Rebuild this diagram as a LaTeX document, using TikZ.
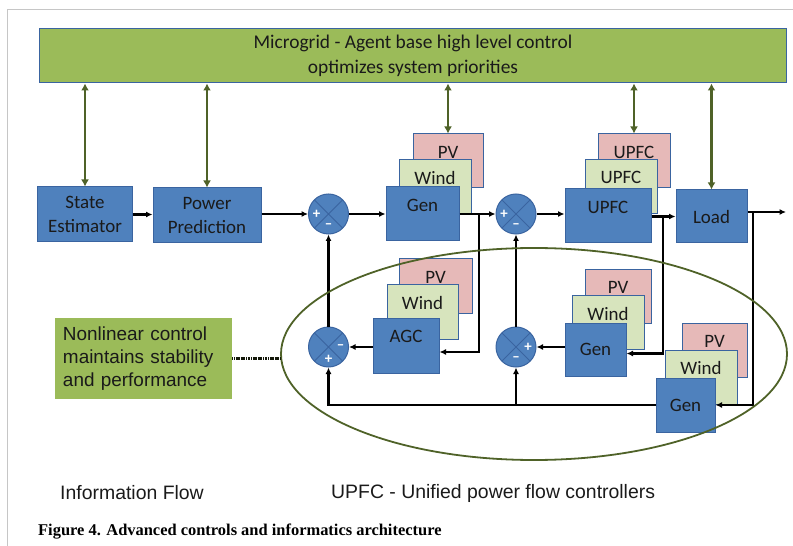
\documentclass[tikz,border=0pt]{standalone}
\usepackage{fontspec}
\usetikzlibrary{shapes.geometric,arrows.meta}
\newfontfamily\calibrifont{Carlito}
\newfontfamily\arialfont{Liberation Sans}
\newfontfamily\capfont{Liberation Serif}
\definecolor{genblue}{HTML}{4F81BD}
\definecolor{boxline}{HTML}{3A64A0}
\definecolor{pvpink}{HTML}{E6B9B8}
\definecolor{windgreen}{HTML}{D7E4BD}
\definecolor{agentgreen}{HTML}{9BBB59}
\definecolor{olive}{HTML}{4F6228}
\definecolor{ink}{HTML}{1A1A1A}

\begin{document}
\begin{tikzpicture}[x=1bp,y=-1bp,
  lbl/.style={font=\calibrifont\fontsize{19}{24}\selectfont, text=ink},
  blk/.style 2 args={draw=boxline, line width=1bp, inner sep=0pt,
    minimum width=#1bp, minimum height=#2bp, lbl},
  tag/.style={label={[lbl,anchor=center,yshift=-18.5bp]north:#1}},
  gen/.style 2 args={blk={#1}{#2}, fill=genblue},
  pv/.style={blk={#1}{54}, fill=pvpink},
  wind/.style={blk={#1}{54}, fill=windgreen},
  sum/.style={circle, draw=boxline, fill=genblue, line width=1bp,
    minimum size=40bp, inner sep=0pt,
    path picture={\draw[boxline,line width=1bp]
      (path picture bounding box.north west) -- (path picture bounding box.south east)
      (path picture bounding box.north east) -- (path picture bounding box.south west);}},
  sgn/.style={text=white, font=\calibrifont\bfseries\fontsize{15}{15}\selectfont, inner sep=0pt},
  flow/.style={draw=black, line width=2.3bp, -{Latex[length=6.5bp,width=6bp]}},
  info/.style={draw=olive, line width=2.5bp, {Latex[length=7bp,width=8bp]}-{Latex[length=7bp,width=8bp]}},
  note/.style={font=\arialfont\fontsize{19.5}{23}\selectfont, text=ink, inner sep=0pt, anchor=west}]
  \useasboundingbox (0,0) rectangle (793,546);
  % page frame
  \draw[gray!45, line width=0.8bp] (7,546) -- (7,9) -- (793,9);

  % agent layer
  \node[blk={746}{54}, fill=agentgreen, align=center,
    font=\calibrifont\fontsize{19.5}{25}\selectfont] (mg) at (413,56)
    {Microgrid - Agent base high level control\\optimizes system priorities};

  % forward path
  \node[gen={94}{55}, align=center] (se) at (85,214.5) {State\\Estimator};
  \node[gen={108}{55}, align=center] (pp) at (207,215.5) {Power\\Prediction};
  \node[sum] (s1) at (328.5,214) {};
  \node[pv=70, tag=PV] (pv1) at (448,161) {};
  \node[wind=72, tag=Wind] (wind1) at (435,186.5) {};
  \node[gen={73}{54}, tag=Gen] (gen1) at (422.5,214) {};
  \node[sum] (s2) at (516,214) {};
  \node[pv=72, tag=UPFC] (upfc3) at (634,161) {};
  \node[wind=72, tag=UPFC] (upfc2) at (621,186.5) {};
  \node[gen={86}{54}, tag=UPFC] (upfc) at (608,216) {};
  \node[gen={71}{53}] (load) at (711.5,216.5) {Load};

  % feedback path
  \node[sum] (s3) at (328.5,347) {};
  \node[sum] (s4) at (516,347) {};
  \node[pv=73, tag=PV] (pv2) at (435.5,286) {};
  \node[wind=71, tag=Wind] (wind2) at (422.5,312) {};
  \node[gen={66}{55}, tag=AGC] (agc) at (406,346) {};
  \node[pv=66, tag=PV] (pv3) at (618,296.5) {};
  \node[wind=72, tag=Wind] (wind3) at (608,322.5) {};
  \node[gen={61}{53}] (gen2) at (595.5,349.5) {Gen};
  \node[pv=65, tag=PV] (pv4) at (714.5,350.5) {};
  \node[wind=72, tag=Wind] (wind4) at (701,377) {};
  \node[gen={59}{54}] (gen3) at (685.5,405) {Gen};

  % signs on the junctions
  \node[sgn] (s1p) at ([xshift=-12bp]s1.center) {+};
  \node[sgn] (s1m) at ([yshift=-12bp]s1.center) {\textendash};
  \node[sgn] (s2p) at ([xshift=-12bp]s2.center) {+};
  \node[sgn] (s2m) at ([yshift=-12bp]s2.center) {\textendash};
  \node[sgn] (s3m) at ([xshift=12bp]s3.center) {\textendash};
  \node[sgn] (s3p) at ([yshift=-12bp]s3.center) {+};
  \node[sgn] (s4p) at ([xshift=12bp]s4.center) {+};
  \node[sgn] (s4m) at ([yshift=-12bp]s4.center) {\textendash};

  % power flow
  \coordinate (b1) at (479,214);
  \coordinate (b2) at (663,216.5);
  \coordinate (out) at (786,212);
  \coordinate (b3) at (753,212);
  \draw[flow] (se.east) -- (se.east -| pp.west);
  \draw[flow] (pp.east |- s1) -- (s1);
  \draw[flow] (s1) -- (gen1);
  \draw[flow] (gen1) -- (s2);
  \draw[flow] (s2) -- (s2 -| upfc.west);
  \draw[flow] (upfc.east |- load) -- (load);
  \draw[flow] (load.east |- out) -- (out);
  \draw[flow] (b1) |- ([yshift=-6bp]agc.east);
  \draw[flow] (agc.west |- s3) -- (s3);
  \draw[flow] (b2) |- ([yshift=-4bp]gen2.east);
  \draw[flow] (gen2.west |- s4) -- (s4);
  \draw[flow] (b3) |- (gen3);
  \draw[flow] (gen3) -| (s3);
  \draw[flow] (gen3 -| s4) -- (s4);
  \draw[flow] (s3) -- (s1);
  \draw[flow] (s4) -- (s2);

  % information flow
  \foreach \n in {se,pp,pv1,upfc3,load}
    \draw[info] (\n.north) -- (\n.north |- mg.south);

  % nonlinear control loop
  \node[ellipse, draw=olive, line width=1.8bp, minimum width=506bp,
    minimum height=212bp, inner sep=0pt] (loop) at (534,354) {};
  \node[fill=agentgreen, minimum width=177bp, minimum height=81bp,
    text width=161bp, inner xsep=8bp, align=left, text=ink,
    font=\arialfont\fontsize{19}{23}\selectfont] (nl) at (143.5,358.5)
    {Nonlinear control\\maintains stability\\and performance};
  \draw[black!75!olive, line width=3bp, dash pattern=on 1.2bp off 0.5bp]
    (nl.east) -- (nl.east -| loop.west);

  % legend and caption
  \node[note] (lgd1) at (60,493) {Information Flow};
  \node[note] (lgd2) at (331,493) {UPFC - Unified power flow controllers};
  \node[note, font=\capfont\bfseries\fontsize{16.5}{20}\selectfont, text=black]
    (cap) at (38,532) {Figure 4. Advanced controls and informatics architecture};
\end{tikzpicture}
\end{document}
